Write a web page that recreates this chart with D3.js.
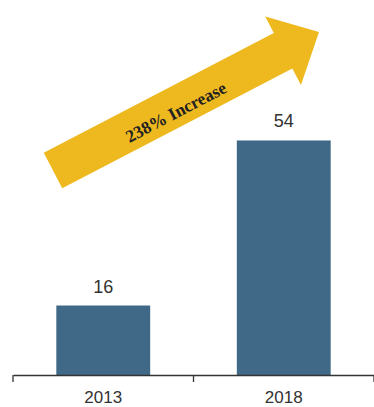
<!DOCTYPE html>
<html>
<head>
<meta charset="utf-8">
<script src="https://cdn.jsdelivr.net/npm/d3@7"></script>
<style>
  html, body { margin: 0; padding: 0; background: #fff; }
  svg { display: block; }
</style>
</head>
<body>
<svg id="chart" width="374" height="407"></svg>
<script>
// Data
const years = ["2013", "2018"];
const counts = [16, 54];
const increaseLabel = "238% Increase";

const width = 374, height = 407;
const svg = d3.select("#chart");

// Scales
const x = d3.scaleBand()
  .domain(years)
  .range([13, 374])
  .paddingInner(0.48)
  .paddingOuter(0.24);

const y = d3.scaleLinear()
  .domain([0, 60])
  .range([375, 114.4]);

// Bars
svg.append("g")
  .selectAll("rect")
  .data(years)
  .join("rect")
  .attr("x", d => x(d))
  .attr("y", (d, i) => y(counts[i]))
  .attr("width", x.bandwidth())
  .attr("height", (d, i) => y(0) - y(counts[i]))
  .attr("fill", "#3f6987");

// Value labels
svg.append("g")
  .selectAll("text")
  .data(years)
  .join("text")
  .attr("x", d => x(d) + x.bandwidth() / 2)
  .attr("y", (d, i) => y(counts[i]) - 13)
  .attr("text-anchor", "middle")
  .attr("font-family", "Liberation Sans, Arial, sans-serif")
  .attr("font-size", 18)
  .attr("fill", "#333")
  .text((d, i) => counts[i]);

// Category axis
const axis = svg.append("g")
  .attr("transform", `translate(0,${y(0)})`)
  .call(d3.axisBottom(x).tickSize(0).tickPadding(15.5));
axis.select(".domain").attr("stroke", "#333").attr("stroke-width", 1.3);
axis.selectAll("text")
  .attr("font-family", "Liberation Sans, Arial, sans-serif")
  .attr("font-size", 17)
  .attr("fill", "#333");

// Tick marks at the band boundaries
const step = x.step();
const boundaries = d3.range(years.length + 1).map(i => x.range()[0] + i * step);
axis.selectAll(".boundary")
  .data(boundaries)
  .join("line")
  .attr("class", "boundary")
  .attr("x1", d => d).attr("x2", d => d)
  .attr("y1", 0).attr("y2", 7)
  .attr("stroke", "#333")
  .attr("stroke-width", 1.3);

// Increase arrow: tail centre, tip, shaft and head sizes
const tail = [53, 170.5], tip = [319, 32];
const shaftHalf = 20, headHalf = 38.7, headLen = 40.5;
const dx = tip[0] - tail[0], dy = tip[1] - tail[1];
const len = Math.hypot(dx, dy);
const angle = Math.atan2(dy, dx) * 180 / Math.PI;

const arrowPts = [
  [0, -shaftHalf], [len - headLen, -shaftHalf], [len - headLen, -headHalf],
  [len, 0],
  [len - headLen, headHalf], [len - headLen, shaftHalf], [0, shaftHalf]
];

const arrow = svg.append("g")
  .attr("transform", `translate(${tail[0]},${tail[1]}) rotate(${angle})`);

arrow.append("path")
  .attr("d", d3.line()(arrowPts) + "Z")
  .attr("fill", "#eeb81f");

arrow.append("text")
  .attr("x", 136)
  .attr("y", 4.7)
  .attr("dy", "0.35em")
  .attr("text-anchor", "middle")
  .attr("font-family", "Liberation Serif, Times New Roman, serif")
  .attr("font-weight", "bold")
  .attr("font-size", 17.5)
  .attr("fill", "#222")
  .text(increaseLabel);
</script>
</body>
</html>
